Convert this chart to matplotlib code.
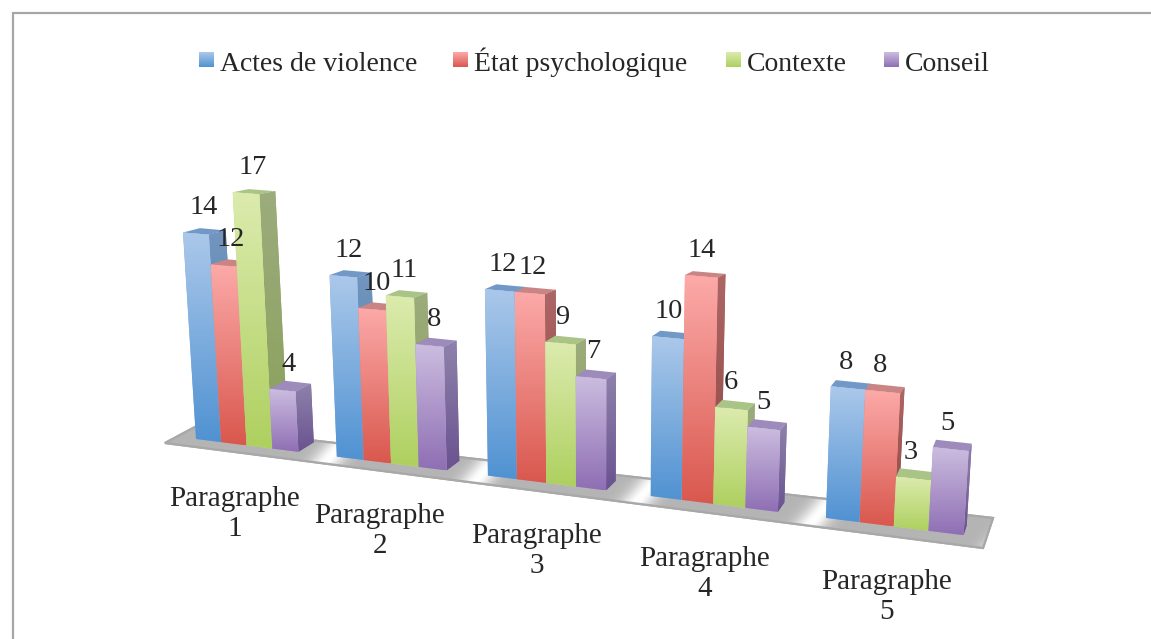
import numpy as np
import matplotlib
matplotlib.use("Agg")
import matplotlib.pyplot as plt
from matplotlib.patches import Polygon
from matplotlib.colors import to_rgb

# ---- data ----
categories = ["Paragraphe\n1", "Paragraphe\n2", "Paragraphe\n3", "Paragraphe\n4", "Paragraphe\n5"]
series_names = ["Actes de violence", "État psychologique", "Contexte", "Conseil"]
actes = [14, 12, 12, 10, 8]
etat = [12, 10, 12, 14, 8]
contexte = [17, 11, 9, 6, 3]
conseil = [4, 8, 7, 5, 5]
series = [actes, etat, contexte, conseil]

# ---- style ----
front_top = ["#abc8ea", "#fcaaa9", "#dcebae", "#ccbde0"]
front_bot = ["#5092d2", "#d9584e", "#aed05f", "#8f6fb4"]
side_top = ["#7296bf", "#ad6666", "#9cac7d", "#8e82ab"]
side_bot = ["#4d76a6", "#8f4642", "#8aa05a", "#6a5390"]
top_col = ["#7298c8", "#c98583", "#a9c486", "#9c8bbb"]
TXT = "#262626"
FONT = "Liberation Serif"
plt.rcParams["font.family"] = FONT

fig = plt.figure(figsize=(11.51, 6.39), dpi=100)
ax = fig.add_axes([0, 0, 1, 1])
ax.set_xlim(0, 1151)
ax.set_ylim(639, 0)
ax.axis("off")


# ---- perspective model of the 3-D chart ----
def floor_x(u):
    return (23.74 * u + 196) / (1 - 0.00624 * u)


def floor_y(x):
    return 439 + 0.1253 * (x - 196)


def rise(x, v):
    return (14.75 + 0.0027 * (x - 196)) * v


def raised(x, y, v):
    h = rise(x, v)
    return x + (x - 590) * h / 6270, y - h


def depth(x, h):
    return 17 - 0.0185 * (x - 210), -9.5 + 0.025 * h


def vgrad(poly, c_top, c_bot, z):
    poly = np.asarray(poly)
    patch = Polygon(poly, closed=True, fc=np.mean([to_rgb(c_top), to_rgb(c_bot)], axis=0),
                    ec="none", zorder=z)
    ax.add_patch(patch)
    t = np.linspace(0, 1, 128)[:, None, None]
    img = np.array(to_rgb(c_top))[None, None, :] * (1 - t) + np.array(to_rgb(c_bot))[None, None, :] * t
    im = ax.imshow(img, extent=(poly[:, 0].min(), poly[:, 0].max(), poly[:, 1].max(), poly[:, 1].min()),
                   aspect="auto", interpolation="bilinear", zorder=z)
    im.set_clip_path(patch)


PERIOD = 5.45
n_series = len(series)
n_cat = len(categories)

# ---- floor ----
floor = np.array([[165, 443], [195, 427], [993, 518], [983, 548]], float)
floor_patch = Polygon(floor, closed=True, fc="#b4b4b4", ec="#a8a8a8", lw=1.6, zorder=2)
ax.add_patch(floor_patch)
xx, yy = np.meshgrid(np.arange(160, 1000), np.arange(420, 555))
front_line = 443 + 0.1284 * (xx - 165)
xp = xx - 0.8 * (front_line - yy)
gray = np.full(xx.shape, 180.0)
gaps = [(floor_x(i * PERIOD + n_series) + floor_x((i + 1) * PERIOD)) / 2 + 6 for i in range(n_cat)]
for g in gaps:
    gray = np.maximum(gray, 180 + 75 * np.exp(-((xp - g) / 15) ** 2))
floor_img = ax.imshow(np.dstack([gray / 255] * 3), extent=(160, 1000, 555, 420), aspect="auto",
                      interpolation="bilinear", zorder=2.1)
floor_img.set_clip_path(Polygon(floor, closed=True, transform=ax.transData))
ax.add_patch(Polygon(floor, closed=True, fc="none", ec="#a8a8a8", lw=1.6, zorder=2.2))

# ---- bars ----
z = 3
for i in range(n_cat):
    for j in range(n_series):
        v = series[j][i]
        u = i * PERIOD + j
        xl, xr = floor_x(u), floor_x(u + 1)
        yl, yr = floor_y(xl), floor_y(xr)
        txl, tyl = raised(xl, yl, v)
        txr, tyr = raised(xr, yr, v)
        h = yr - tyr
        ddx, ddy = depth(xr, h)
        fdx, fdy = depth(xr, 0)
        vgrad([(xr, yr), (xr + fdx, yr + fdy), (txr + ddx, tyr + ddy), (txr, tyr)],
              side_top[j], side_bot[j], z)
        ax.add_patch(Polygon([(txl, tyl), (txr, tyr), (txr + ddx, tyr + ddy), (txl + ddx, tyl + ddy)],
                             closed=True, fc=top_col[j], ec="none", zorder=z + 0.1))
        vgrad([(xl, yl), (xr, yr), (txr, tyr), (txl, tyl)], front_top[j], front_bot[j], z + 0.2)
        z += 0.5
        ax.text((txl + txr) / 2 + ddx * 0.8 - 6, (tyl + tyr) / 2 - 26, str(v), ha="center", va="center",
                fontsize=20.5, color=TXT, zorder=50)

# ---- category labels ----
label_pos = [(235, 514), (380, 531), (537, 551), (705, 574), (887, 597)]
for name, (x, y) in zip(categories, label_pos):
    ax.text(x, y, name, ha="center", va="center", fontsize=21, color=TXT,
            linespacing=1.2, zorder=50)

# ---- legend ----
legend_swatch_x = [199, 453, 726, 884]
legend_text_x = [220, 474, 747, 905]
for j, name in enumerate(series_names):
    sx = legend_swatch_x[j]
    vgrad([(sx, 52), (sx + 15, 52), (sx + 15, 67), (sx, 67)], front_top[j], front_bot[j], 40)
    ax.text(legend_text_x[j], 71, name, ha="left", va="baseline", fontsize=20, color=TXT, zorder=50)

# ---- outer frame ----
ax.plot([13, 13, 1151], [639, 13, 13], color="#a6a6a6", lw=1.6, zorder=60, solid_joinstyle="miter")
ax.set_xlim(0, 1151)
ax.set_ylim(639, 0)

fig.savefig("out.png", dpi=100, facecolor="white")
